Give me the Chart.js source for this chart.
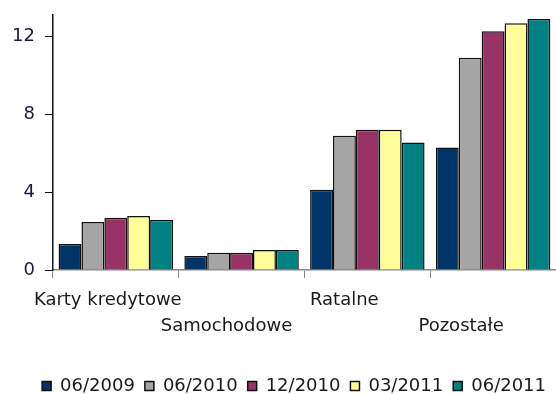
<!DOCTYPE html>
<html>
<head>
<meta charset="utf-8">
<script src="https://cdn.jsdelivr.net/npm/chart.js@4/dist/chart.umd.min.js"></script>
<style>
  html, body { margin: 0; padding: 0; background: #fff; }
  #wrap { width: 556px; height: 394px; position: relative; }
</style>
</head>
<body>
<div id="wrap"><canvas id="c"></canvas></div>
<script>
// Loan categories and the five reporting dates
const categories = ["Karty kredytowe", "Samochodowe", "Ratalne", "Pozostałe"];
const seriesLabels = ["06/2009", "06/2010", "12/2010", "03/2011", "06/2011"];
const s2009_06 = [1.34, 0.72, 4.12, 6.29];
const s2010_06 = [2.47, 0.88, 6.90, 10.90];
const s2010_12 = [2.68, 0.88, 7.20, 12.27];
const s2011_03 = [2.78, 1.03, 7.20, 12.68];
const s2011_06 = [2.58, 1.03, 6.55, 12.89];
const yTicks = [0, 4, 8, 12];

const COLORS = ["#003366", "#a5a5a5", "#993366", "#ffff99", "#008080"];
const FONT = "'DejaVu Sans', Verdana, sans-serif";

// Excel-style staggered category labels, nudged a bit left like the original
const labelShift = [-8, -15, -23, -32];
const labelRow = [300, 326];

const xLabels = {
  id: "xLabels",
  afterDraw(chart) {
    const ctx = chart.ctx;
    const x = chart.scales.x;
    ctx.save();
    ctx.font = "18px " + FONT;
    ctx.fillStyle = "#1a1a1a";
    ctx.textAlign = "center";
    ctx.textBaseline = "middle";
    categories.forEach((c, i) => {
      ctx.fillText(c, x.getPixelForValue(i) + labelShift[i], labelRow[i % 2]);
    });
    ctx.restore();
  }
};

const allSeries = [s2009_06, s2010_06, s2010_12, s2011_03, s2011_06];

new Chart(document.getElementById("c"), {
  type: "bar",
  data: {
    labels: categories,
    datasets: allSeries.map((d, i) => ({
      label: seriesLabels[i],
      data: d,
      backgroundColor: COLORS[i],
      borderColor: "#111",
      borderWidth: 1.5,
      categoryPercentage: 0.91,
      barPercentage: 1
    }))
  },
  options: {
    responsive: true,
    maintainAspectRatio: false,
    animation: false,
    layout: { padding: { top: 15, left: 2, right: 0, bottom: -11 } },
    scales: {
      x: {
        grid: { offset: true, drawOnChartArea: false, tickLength: 8, color: "#888" },
        border: { color: "#888", width: 1.5 },
        ticks: { display: false },
        afterFit: (s) => { s.height = 97; }
      },
      y: {
        min: 0,
        max: 13.1,
        afterBuildTicks: (s) => { s.ticks = yTicks.map((v) => ({ value: v })); },
        // top label (12) sits well below the axis end, so no extra room needed
        afterFit: (s) => { s.paddingTop = 0; },
        grid: { drawOnChartArea: false, tickLength: 8, color: "#111" },
        border: { color: "#111", width: 1.5 },
        ticks: { color: "#1a1a3a", padding: 10, font: { family: FONT, size: 18 } }
      }
    },
    plugins: {
      tooltip: { enabled: false },
      legend: {
        position: "bottom",
        align: "end",
        labels: {
          boxWidth: 9,
          boxHeight: 9,
          padding: 10,
          color: "#1a1a1a",
          font: { family: FONT, size: 18 }
        }
      }
    }
  },
  plugins: [xLabels]
});
</script>
</body>
</html>
